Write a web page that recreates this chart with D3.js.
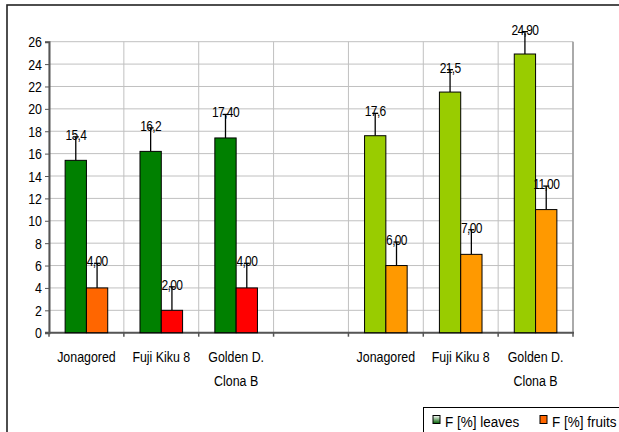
<!DOCTYPE html>
<meta charset="utf-8">
<style>
  body { margin: 0; background: #fff; }
  text { font-family: "Liberation Sans", Arial, sans-serif; }
</style>
<svg width="619" height="432"></svg>
<script src="https://d3js.org/d3.v7.min.js"></script>
<script>
  // categories (the 4th one is an empty spacer between the two groups)
  var categories = ['Jonagored', 'Fuji Kiku 8', 'Golden D.|Clona B', '', 'Jonagored', 'Fuji Kiku 8', 'Golden D.|Clona B']
  var leaves = [15.4, 16.2, 17.4, null, 17.6, 21.5, 24.9]
  var fruits = [4, 2, 4, null, 6, 7, 11]
  var leavesErr = [2.1, 2.1, 2.1, null, 2.0, 2.0, 2.0]
  var fruitsErr = [2.2, 2.1, 2.2, null, 2.1, 2.2, 2.1]
  var leavesLabels = ['15,4', '16,2', '17,40', '', '17,6', '21,5', '24,90']
  var fruitsLabels = ['4,00', '2,00', '4,00', '', '6,00', '7,00', '11,00']
  var yTicks = [0, 2, 4, 6, 8, 10, 12, 14, 16, 18, 20, 22, 24, 26]
  var legendLabels = ['F [%] leaves', 'F [%] fruits']

  // colours: first group darker, second group lighter
  function leafColor(i) { return i < 3 ? '#008000' : '#99CC00' }
  function fruitColor(i) { return i === 0 ? '#FF6600' : (i < 3 ? '#FF0000' : '#FF9900') }

  // no narrow font installed, so squeeze a normal one
  var NARROW = 0.8
  function narrowText(g, px, py, str, size, anchor, sx) {
    return g.append('text')
      .attr('transform', 'translate(' + px + ',' + py + ') scale(' + (sx || NARROW) + ',1)')
      .attr('text-anchor', anchor || 'middle')
      .attr('font-size', size)
      .attr('fill', '#000')
      .text(str)
  }

  var svg = d3.select('svg')

  // outer chart frame (runs off the right and bottom edge)
  svg.append('rect')
    .attr('x', 7).attr('y', 5)
    .attr('width', 640).attr('height', 460)
    .attr('fill', 'none')
    .attr('stroke', '#222')
    .attr('stroke-width', 1.6)

  var plotL = 49, plotR = 573, plotT = 41.7, plotB = 332.7

  var x = d3.scaleBand()
    .domain(d3.range(categories.length))
    .range([plotL, plotR])
    .padding(0)

  var y = d3.scaleLinear()
    .domain([0, 26])
    .range([plotB, plotT])

  var barW = 21.3
  var edges = d3.range(categories.length + 1).map(d => plotL + d * x.bandwidth())

  // grid
  var grid = svg.append('g')
  grid.selectAll('line.h')
    .data(yTicks)
    .enter().append('line')
    .attr('x1', plotL).attr('x2', plotR)
    .attr('y1', d => y(d)).attr('y2', d => y(d))
    .attr('stroke', '#c0c0c0')
    .attr('stroke-width', 1)
  grid.selectAll('line.v')
    .data(edges)
    .enter().append('line')
    .attr('x1', d => d).attr('x2', d => d)
    .attr('y1', plotT).attr('y2', plotB)
    .attr('stroke', '#c0c0c0')
    .attr('stroke-width', 1)

  // plot area right border
  svg.append('line')
    .attr('x1', plotR).attr('x2', plotR).attr('y1', plotT).attr('y2', plotB)
    .attr('stroke', '#999').attr('stroke-width', 1.5)

  // y axis
  var yAxis = svg.append('g')
    .attr('transform', 'translate(' + plotL + ',0)')
    .call(d3.axisLeft(y).tickValues(yTicks).tickSize(4).tickFormat(''))
  yAxis.select('.domain').attr('stroke', '#555').attr('stroke-width', 2)
  yAxis.selectAll('.tick line').attr('stroke', '#555')
  var yLab = svg.append('g')
  yTicks.forEach(t => narrowText(yLab, plotL - 7, y(t) + 5.5, t, 15.5, 'end'))

  // x axis line and ticks at category borders
  svg.append('line')
    .attr('x1', plotL - 4).attr('x2', plotR + 1)
    .attr('y1', plotB).attr('y2', plotB)
    .attr('stroke', '#555').attr('stroke-width', 2)
  svg.append('g').selectAll('line')
    .data(edges)
    .enter().append('line')
    .attr('x1', d => d).attr('x2', d => d)
    .attr('y1', plotB).attr('y2', plotB + 4)
    .attr('stroke', '#555').attr('stroke-width', 1.5)

  // category labels
  var catG = svg.append('g')
  categories.forEach((c, i) => {
    c.split('|').forEach((s, k) => {
      if (s) narrowText(catG, x(i) + x.bandwidth() / 2, 362 + k * 23.5, s, 15.5)
    })
  })

  var idx = d3.range(categories.length).filter(i => leaves[i] !== null)

  // error bars (drawn first, bars on top)
  function errBars(vals, errs, offset) {
    var g = svg.append('g')
    idx.forEach(i => {
      var cx = x(i) + x.bandwidth() / 2 + offset
      g.append('line')
        .attr('x1', cx).attr('x2', cx)
        .attr('y1', y(vals[i])).attr('y2', y(vals[i] + errs[i]))
        .attr('stroke', '#000').attr('stroke-width', 1.3)
      g.append('line')
        .attr('x1', cx - 3).attr('x2', cx + 3)
        .attr('y1', y(vals[i] + errs[i])).attr('y2', y(vals[i] + errs[i]))
        .attr('stroke', '#000').attr('stroke-width', 1.3)
    })
  }
  errBars(leaves, leavesErr, -barW / 2)
  errBars(fruits, fruitsErr, barW / 2)

  // bars
  svg.append('g').selectAll('rect')
    .data(idx)
    .enter().append('rect')
    .attr('x', i => x(i) + x.bandwidth() / 2 - barW)
    .attr('y', i => y(leaves[i]))
    .attr('width', barW)
    .attr('height', i => y(0) - y(leaves[i]))
    .attr('fill', i => leafColor(i))
    .attr('stroke', '#000').attr('stroke-width', 1)

  svg.append('g').selectAll('rect')
    .data(idx)
    .enter().append('rect')
    .attr('x', i => x(i) + x.bandwidth() / 2)
    .attr('y', i => y(fruits[i]))
    .attr('width', barW)
    .attr('height', i => y(0) - y(fruits[i]))
    .attr('fill', i => fruitColor(i))
    .attr('stroke', '#000').attr('stroke-width', 1)

  // value labels
  function valueLabels(vals, errs, labels, offset) {
    var g = svg.append('g')
    idx.forEach(i => {
      narrowText(g, x(i) + x.bandwidth() / 2 + offset, y(vals[i] + errs[i]) + 3, labels[i], 15)
        .attr('letter-spacing', -0.8)
    })
  }
  valueLabels(leaves, leavesErr, leavesLabels, -barW / 2)
  valueLabels(fruits, fruitsErr, fruitsLabels, barW / 2)

  // legend
  var defs = svg.append('defs')
  var grad = defs.append('linearGradient')
    .attr('id', 'leafgrad')
    .attr('x1', 0).attr('y1', 1).attr('x2', 0).attr('y2', 0)
  grad.append('stop').attr('offset', '0%').attr('stop-color', '#006000')
  grad.append('stop').attr('offset', '100%').attr('stop-color', '#ffffff')

  var legend = svg.append('g')
  legend.append('rect')
    .attr('x', 423.5).attr('y', 407.5)
    .attr('width', 220).attr('height', 40)
    .attr('fill', '#fff')
    .attr('stroke', '#000').attr('stroke-width', 1)

  var legendX = [433, 540]
  var legendFill = ['url(#leafgrad)', '#FF6600']
  legendLabels.forEach((s, k) => {
    legend.append('rect')
      .attr('x', legendX[k]).attr('y', 415.5)
      .attr('width', 7).attr('height', 8)
      .attr('fill', legendFill[k])
      .attr('stroke', '#000').attr('stroke-width', 1)
    narrowText(legend, legendX[k] + 12, 426.5, s, 15.5, 'start', 0.87)
  })
</script>
